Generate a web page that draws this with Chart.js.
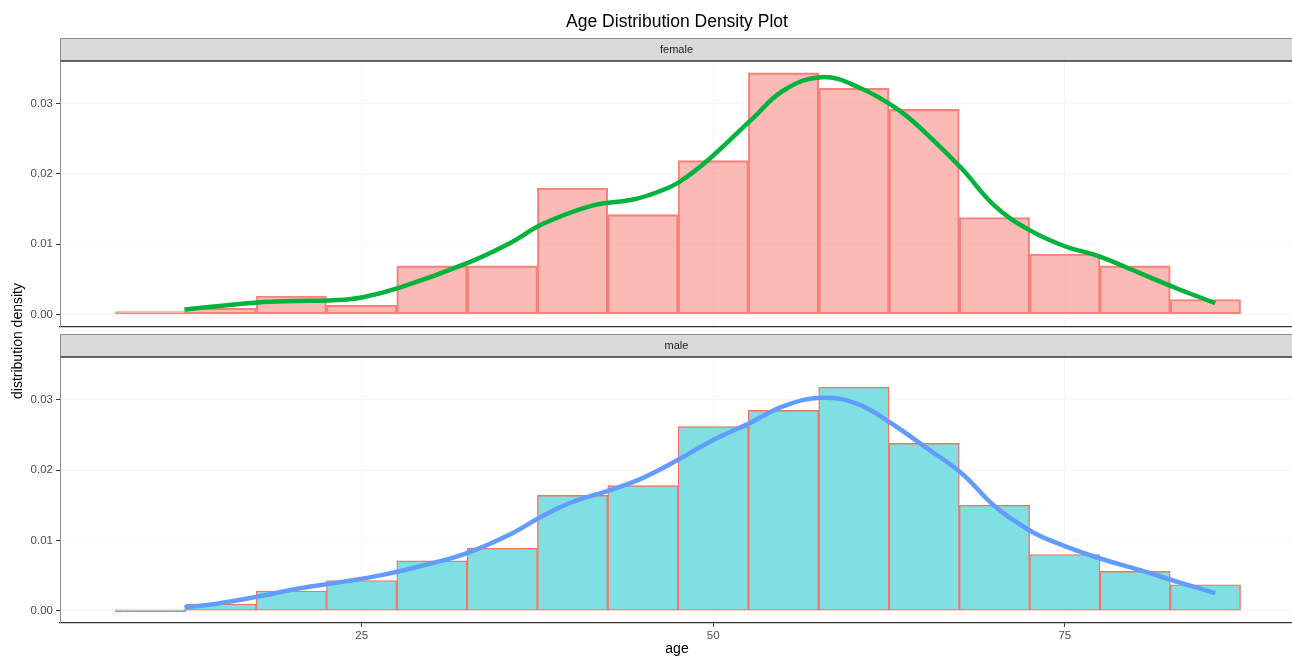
<!DOCTYPE html>
<html>
<head>
<meta charset="utf-8">
<script src="https://cdn.jsdelivr.net/npm/chart.js@4.4.0/dist/chart.umd.min.js"></script>
<style>
  html, body { margin: 0; padding: 0; background: #fff; overflow: hidden; }
  #wrap { position: relative; width: 1292px; height: 658px; }
  canvas { position: absolute; left: 0; top: 0; }
</style>
</head>
<body>
<div id="wrap">
  <canvas id="femaleChart" width="1294" height="658"></canvas>
  <canvas id="maleChart" width="1294" height="658"></canvas>
</div>
<script>
// histogram bins (width 5, centres)
var binCenters = [10, 15, 20, 25, 30, 35, 40, 45, 50, 55, 60, 65, 70, 75, 80, 85];
var femaleDensity = [0.0004, 0.00085, 0.0026, 0.0013, 0.0069, 0.0069, 0.0180, 0.0142,
                     0.0219, 0.0344, 0.0322, 0.0292, 0.0138, 0.0086, 0.0069, 0.0021];
var maleDensity = [0, 0.00095, 0.0028, 0.0043, 0.0071, 0.0089, 0.0164, 0.0178,
                   0.0262, 0.0285, 0.0318, 0.0238, 0.0150, 0.0080, 0.0056, 0.0037];

// density curves
var femaleCurveAge = [12.4, 17.6, 20.3, 23.0, 25.0, 27.7, 32.5, 35.5, 37.9, 41.4, 44.4, 46.4, 47.7,
                      49.7, 52.7, 55.0, 57.7, 60.3, 63.2, 65.6, 67.7, 70.0, 72.4, 75.0, 77.4, 80.3, 83.2, 85.7];
var femaleCurveDensity = [0.0007, 0.0017, 0.0019, 0.0020, 0.0024, 0.0038, 0.0073, 0.0101, 0.0129, 0.0155, 0.0164, 0.0177, 0.0190,
                          0.0221, 0.0277, 0.0319, 0.0338, 0.0324, 0.0291, 0.0249, 0.0207, 0.0155, 0.0121, 0.0097, 0.0083, 0.0059, 0.0035, 0.0016];
var maleCurveAge = [12.4, 14.6, 17.6, 20.6, 23.6, 26.5, 29.5, 32.5, 35.5, 37.9, 39.9, 42.9, 45.0, 47.7,
                    50.0, 52.7, 55.0, 57.7, 60.3, 62.7, 65.0, 67.7, 70.0, 72.7, 75.0, 77.4, 80.3, 83.2, 85.7];
var maleCurveDensity = [0.0005, 0.00095, 0.0020, 0.0032, 0.0041, 0.0051, 0.0065, 0.0082, 0.0108, 0.0135, 0.0154, 0.0173, 0.0189, 0.0217,
                        0.0243, 0.0268, 0.0291, 0.0303, 0.0294, 0.0266, 0.0234, 0.0195, 0.0149, 0.0112, 0.0092, 0.0075, 0.0058, 0.0040, 0.0025];

var ageTicks = [25, 50, 75];
var densityTicks = [0, 0.01, 0.02, 0.03];

var FONT = "'Liberation Sans', Arial, sans-serif";
Chart.defaults.font.family = FONT;

function pairs(xs, ys) {
    return xs.map(function (x, i) { return { x: x, y: ys[i] }; });
}

// grey facet strip above the panel (+ main title / y title)
function stripPlugin(label, isBottom) {
    return {
        id: 'strip',
        beforeDraw: function (chart) {
            var ctx = chart.ctx, a = chart.chartArea;
            var top = a.top - 23;
            ctx.save();
            ctx.fillStyle = '#d9dbda';
            ctx.fillRect(a.left, top, a.right - a.left, 23);
            ctx.strokeStyle = '#8c8c8c';
            ctx.lineWidth = 1;
            ctx.beginPath();
            ctx.moveTo(a.left + 0.5, a.top);
            ctx.lineTo(a.left + 0.5, top + 0.5);
            ctx.lineTo(a.right, top + 0.5);
            ctx.stroke();
            ctx.strokeStyle = '#333';
            ctx.lineWidth = 1.3;
            ctx.beginPath();
            ctx.moveTo(a.left, a.top);
            ctx.lineTo(a.right, a.top);
            ctx.stroke();

            ctx.fillStyle = '#1a1a1a';
            ctx.font = '11px ' + FONT;
            ctx.textAlign = 'center';
            ctx.textBaseline = 'middle';
            ctx.fillText(label, 676.5, top + 12);

            if (!isBottom) {
                ctx.fillStyle = '#000';
                ctx.font = '17.5px ' + FONT;
                ctx.fillText('Age Distribution Density Plot', 677, 22);
            } else {
                ctx.translate(18, 341);
                ctx.rotate(-Math.PI / 2);
                ctx.fillStyle = '#000';
                ctx.font = '14px ' + FONT;
                ctx.fillText('distribution density', 0, 0);
            }
            ctx.restore();
        }
    };
}

function facetChart(id, label, barValues, fill, edge, curveAge, curveDensity, lineColor, isBottom) {
    return new Chart(document.getElementById(id), {
        type: 'bar',
        data: {
            datasets: [
                {
                    type: 'line',
                    data: pairs(curveAge, curveDensity),
                    borderColor: lineColor,
                    borderWidth: 4.5,
                    pointRadius: 0,
                    tension: 0.4,
                    fill: false,
                    order: 0
                },
                {
                    type: 'bar',
                    data: pairs(binCenters, barValues),
                    backgroundColor: fill,
                    borderColor: edge,
                    borderWidth: 1.4,
                    borderSkipped: false,
                    barPercentage: 1,
                    categoryPercentage: 1,
                    grouped: false,
                    minBarLength: 2,
                    order: 1
                }
            ]
        },
        options: {
            responsive: false,
            animation: false,
            layout: {
                padding: isBottom ? { top: 357, bottom: 0, left: 0, right: 0 }
                                  : { top: 61, bottom: 331.6, left: 0, right: 0 }
            },
            plugins: { legend: { display: false }, tooltip: { enabled: false } },
            scales: {
                x: {
                    type: 'linear',
                    min: 3.55,
                    max: 91.3,
                    offset: false,
                    afterBuildTicks: function (s) { s.ticks = ageTicks.map(function (v) { return { value: v }; }); },
                    afterFit: function (s) { s.height = isBottom ? 35.2 : 0; },
                    grid: { offset: false, color: 'rgba(0,0,0,0.035)', tickColor: '#333', tickLength: 4, drawTicks: isBottom },
                    border: { color: '#333', width: 1.3 },
                    ticks: { display: isBottom, color: '#4d4d4d', font: { size: 11.5 }, padding: 2, maxRotation: 0 },
                    title: { display: isBottom, text: 'age', color: '#000', font: { size: 14 }, padding: { top: 0, bottom: 0 } }
                },
                y: {
                    min: -0.00172,
                    max: 0.0361,
                    afterBuildTicks: function (s) { s.ticks = densityTicks.map(function (v) { return { value: v }; }); },
                    afterFit: function (s) { s.width = 60; },
                    grid: { color: 'rgba(0,0,0,0.035)', tickColor: '#333', tickLength: 4 },
                    border: { color: '#8c8c8c', width: 1 },
                    ticks: {
                        color: '#4d4d4d',
                        font: { size: 11.5 },
                        padding: 3,
                        callback: function (v) { return v.toFixed(2); }
                    }
                }
            }
        },
        plugins: [stripPlugin(label, isBottom)]
    });
}

facetChart('femaleChart', 'female', femaleDensity, 'rgba(248,118,109,0.5)', 'rgba(246,110,100,0.85)',
           femaleCurveAge, femaleCurveDensity, '#00b33c', false);
facetChart('maleChart', 'male', maleDensity, '#7fdfe2', '#f8735f',
           maleCurveAge, maleCurveDensity, '#619cff', true);
</script>
</body>
</html>
